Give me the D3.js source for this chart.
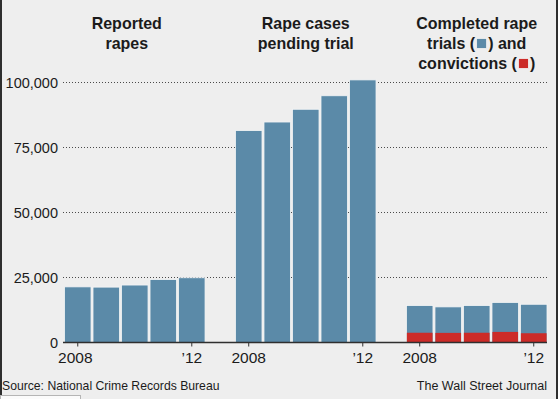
<!DOCTYPE html>
<html>
<head>
<meta charset="utf-8">
<script src="https://cdn.jsdelivr.net/npm/d3@7"></script>
<style>
    body { margin: 0; background: #eeeeee; }
    svg text { font-family: "Liberation Sans", Arial, sans-serif; fill: #1b1b1b; }
</style>
</head>
<body>
<svg id="chart" width="558" height="399"></svg>
<script>
// data
const years = [2008, 2009, 2010, 2011, 2012];
const yearLabels = ["2008", "", "", "", "\u201912"];
const reportedRapes = [21400, 21300, 22100, 24200, 24900];
const pendingTrial = [81500, 84800, 89700, 94900, 101000];
const completedTrials = [14200, 13700, 14200, 15400, 14700];
const convictions = [3750, 3700, 3750, 4070, 3560];
const yTicks = [0, 25000, 50000, 75000, 100000];
const panelTitles = [
    ["Reported", "rapes"],
    ["Rape cases", "pending trial"],
    ["Completed rape", "trials ({b}) and", "convictions ({r})"]
];

const blue = "#5b8aa8";
const red = "#cc2b28";

const svg = d3.select("#chart");
const W = 558, H = 399;
const plot = {left: 63, right: 547, top: 82.5, bottom: 342.5};

// frame edges
svg.append("rect").attr("x", 0).attr("y", 0).attr("width", 2).attr("height", H).attr("fill", "#2e2e2e");
svg.append("rect").attr("x", W - 2).attr("y", 0).attr("width", 2).attr("height", H).attr("fill", "#2e2e2e");
svg.append("rect").attr("x", 0.5).attr("y", 395.5).attr("width", 80).attr("height", 6)
    .attr("fill", "#fbfbfb").attr("stroke", "#b5b5b5");

let y = d3.scaleLinear().domain([0, 100000]).range([plot.bottom, plot.top]);

let panelScale = d3.scaleBand()
    .domain([0, 1, 2])
    .range([plot.left + 1.5, plot.right])
    .paddingInner(0.178);

let x = d3.scaleBand()
    .domain(years)
    .range([0, panelScale.bandwidth()])
    .paddingInner(0.07);

// gridlines
svg.append("g").attr("class", "grid")
    .selectAll("line")
    .data(yTicks.filter(d => d > 0))
    .enter().append("line")
    .attr("x1", plot.left)
    .attr("x2", plot.right)
    .attr("y1", d => y(d))
    .attr("y2", d => y(d))
    .attr("stroke", "#4a4a4a")
    .attr("stroke-width", 1)
    .attr("stroke-dasharray", "1,2");

// y labels
svg.append("g").attr("class", "y-labels")
    .selectAll("text")
    .data(yTicks)
    .enter().append("text")
    .attr("x", 58)
    .attr("y", d => y(d))
    .attr("dy", "0.36em")
    .attr("text-anchor", "end")
    .attr("font-size", "14.5px")
    .text(d => d3.format(",")(d));

let panels = [
    {values: reportedRapes},
    {values: pendingTrial},
    {values: completedTrials, inner: convictions}
];

panels.forEach(function (p, i) {
    let g = svg.append("g")
        .attr("transform", `translate(${panelScale(i)},0)`);

    g.selectAll(".bar")
        .data(p.values)
        .enter().append("rect")
        .attr("class", "bar")
        .attr("x", (d, j) => x(years[j]))
        .attr("y", d => y(d))
        .attr("width", x.bandwidth())
        .attr("height", d => plot.bottom - y(d))
        .attr("fill", blue)
        .attr("stroke", "#f3f5f6")
        .attr("stroke-width", 0.8);

    if (p.inner) {
        g.selectAll(".bar-inner")
            .data(p.inner)
            .enter().append("rect")
            .attr("class", "bar-inner")
            .attr("x", (d, j) => x(years[j]) + 0.4)
            .attr("y", d => y(d))
            .attr("width", x.bandwidth() - 0.8)
            .attr("height", d => plot.bottom - y(d))
            .attr("fill", red);
    }

    // ticks + year labels
    let labelled = years.filter((d, j) => yearLabels[j] !== "");
    g.selectAll(".tick")
        .data(labelled)
        .enter().append("line")
        .attr("x1", d => x(d) + x.bandwidth() / 2)
        .attr("x2", d => x(d) + x.bandwidth() / 2)
        .attr("y1", plot.bottom)
        .attr("y2", plot.bottom + 4)
        .attr("stroke", "#333")
        .attr("stroke-width", 1);
    g.selectAll(".year")
        .data(labelled)
        .enter().append("text")
        .attr("x", d => x(d) + x.bandwidth() / 2 - (i === 0 && d === 2008 ? 2.5 : 0))
        .attr("y", 362.5)
        .attr("text-anchor", "middle")
        .attr("font-size", "15.5px")
        .text(d => yearLabels[years.indexOf(d)]);

    // title, centred on the panel (slightly taller glyphs, same width)
    let cx = panelScale.bandwidth() / 2 - (i === 0 ? 8 : 0);
    let baselines = [29, 48.5, 68.5];
    panelTitles[i].forEach(function (line, k) {
        let parts = line.split(/(\{[br]\})/).filter(s => s !== "");
        let lineG = g.append("g");
        let cursor = 0;
        parts.forEach(function (part) {
            if (part === "{b}" || part === "{r}") {
                lineG.append("rect")
                    .attr("x", cursor + 1.5)
                    .attr("y", baselines[k] - 10)
                    .attr("width", 10)
                    .attr("height", 10)
                    .attr("fill", part === "{b}" ? blue : red)
                    .attr("stroke", "#f3f3f3")
                    .attr("stroke-width", 0.8);
                cursor += 13;
            } else {
                let t = lineG.append("text")
                    .attr("x", cursor)
                    .attr("y", baselines[k])
                    .attr("font-size", "16px")
                    .attr("font-weight", "bold")
                    .attr("xml:space", "preserve")
                    .style("white-space", "pre")
                    .text(part);
                let len = t.node().getComputedTextLength();
                t.attr("font-size", "17px")
                    .attr("textLength", len)
                    .attr("lengthAdjust", "spacingAndGlyphs");
                cursor += len;
            }
        });
        lineG.attr("transform", `translate(${cx - cursor / 2},0)`);
    });
});

// zero line
svg.append("line")
    .attr("x1", plot.left)
    .attr("x2", plot.right)
    .attr("y1", plot.bottom)
    .attr("y2", plot.bottom)
    .attr("stroke", "#2f2f2f")
    .attr("stroke-width", 1.5);

// footer
svg.append("text")
    .attr("x", 2)
    .attr("y", 389.5)
    .attr("font-size", "12.2px")
    .text("Source: National Crime Records Bureau");

svg.append("text")
    .attr("x", 547)
    .attr("y", 389.5)
    .attr("text-anchor", "end")
    .attr("font-size", "12.5px")
    .text("The Wall Street Journal");
</script>
</body>
</html>
